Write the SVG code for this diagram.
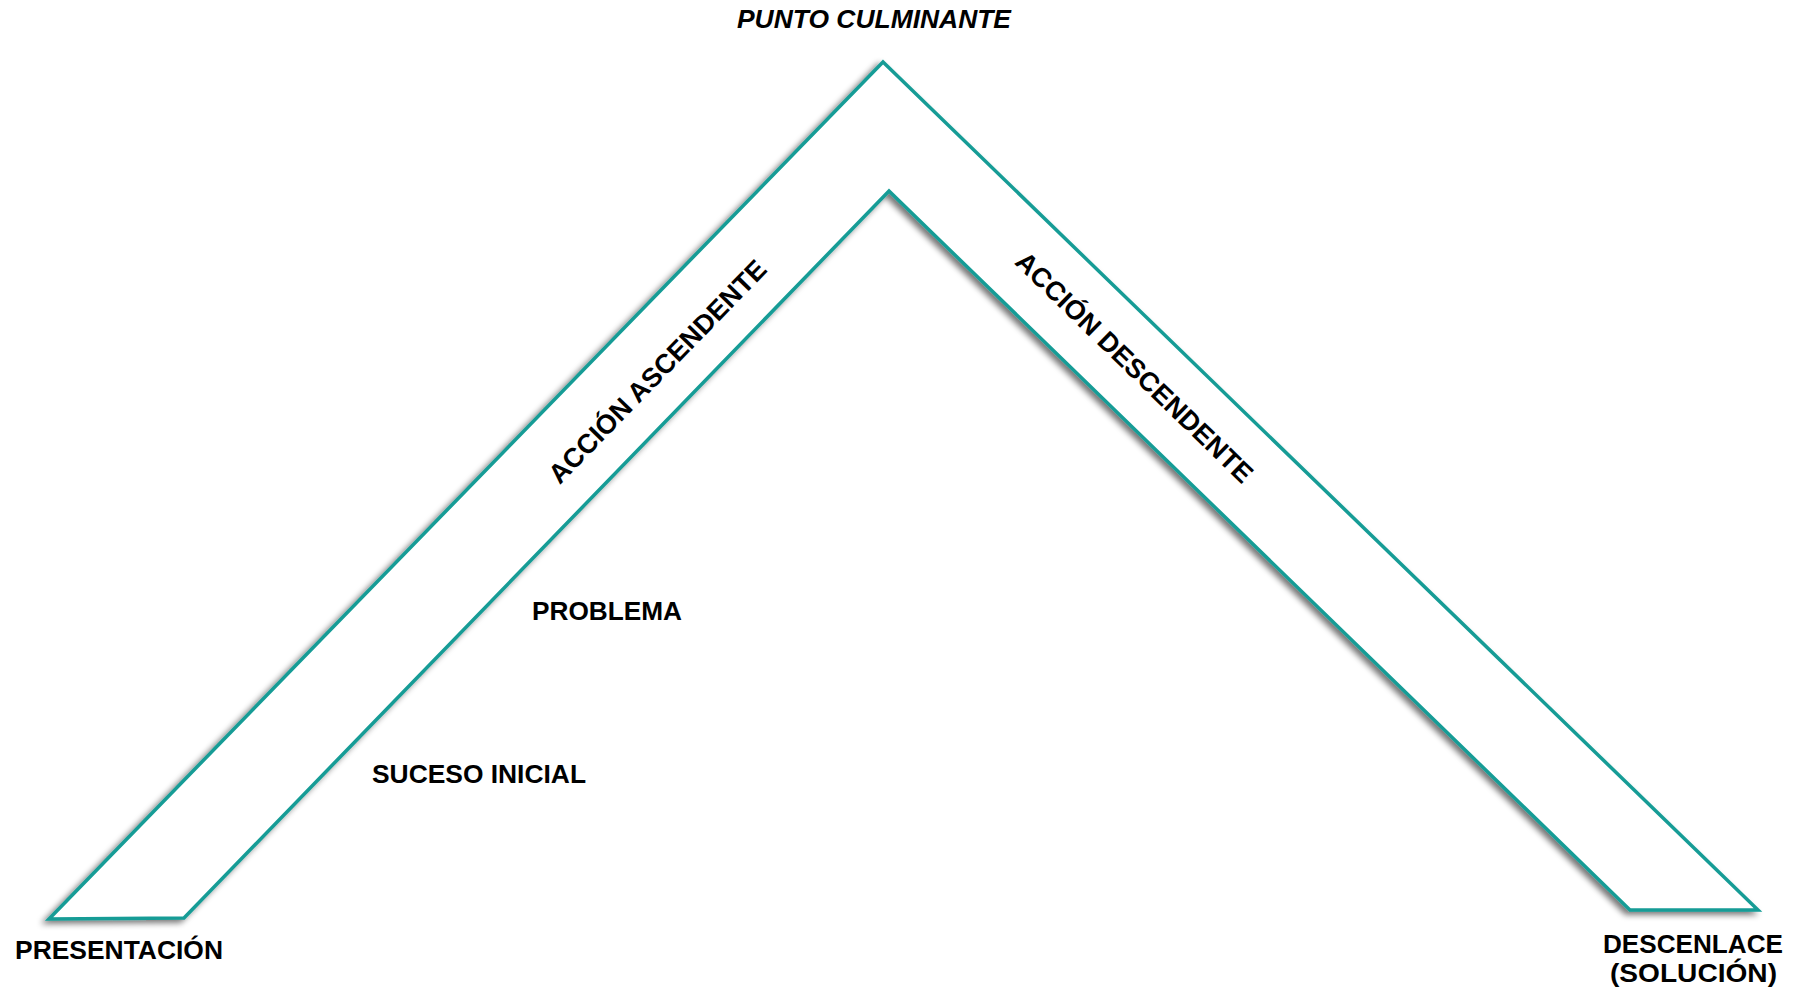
<svg xmlns="http://www.w3.org/2000/svg" width="1806" height="991" viewBox="0 0 1806 991">
<style>
  .lbl { font-family: "Liberation Sans", Arial, sans-serif; font-weight: bold; fill: #000; }
  .band { fill: #fff; stroke: #169C96; stroke-width: 3.5; stroke-linejoin: miter; }
</style>
<defs>
  <filter id="shadow" x="-10%" y="-10%" width="120%" height="120%">
    <feGaussianBlur in="SourceAlpha" stdDeviation="3"/>
    <feOffset dx="-4" dy="3" result="b"/>
    <feComponentTransfer><feFuncA type="linear" slope="0.55"/></feComponentTransfer>
    <feMerge><feMergeNode/><feMergeNode in="SourceGraphic"/></feMerge>
  </filter>
</defs>
<rect width="1806" height="991" fill="#fff"/>
<g id="arc">
  <polygon class="band" filter="url(#shadow)" points="49,919 883,62 1758,910 1630,910 889,191 184,918"/>
</g>
<g id="connectors"></g>
<g id="punto-culminante">
  <text class="lbl" x="737" y="28" font-size="25" font-style="italic" textLength="274" lengthAdjust="spacingAndGlyphs">PUNTO CULMINANTE</text>
</g>
<g id="accion-ascendente">
  <text class="lbl" font-size="27" text-anchor="middle" transform="translate(664,378) rotate(-45.8)">ACCIÓN ASCENDENTE</text>
</g>
<g id="accion-descendente">
  <text class="lbl" font-size="27" text-anchor="middle" transform="translate(1128,374) rotate(44.1)">ACCIÓN DESCENDENTE</text>
</g>
<g id="problema">
  <text class="lbl" x="532" y="620" font-size="25" textLength="150" lengthAdjust="spacingAndGlyphs">PROBLEMA</text>
</g>
<g id="suceso-inicial">
  <text class="lbl" x="372" y="783" font-size="25" textLength="214" lengthAdjust="spacingAndGlyphs">SUCESO INICIAL</text>
</g>
<g id="presentacion">
  <text class="lbl" x="15" y="959" font-size="25" textLength="208" lengthAdjust="spacingAndGlyphs">PRESENTACIÓN</text>
</g>
<g id="descenlace">
  <text class="lbl" x="1603" y="953" font-size="25" textLength="180" lengthAdjust="spacingAndGlyphs">DESCENLACE</text>
  <text class="lbl" x="1610" y="982" font-size="25" textLength="167" lengthAdjust="spacingAndGlyphs">(SOLUCIÓN)</text>
</g>
</svg>
